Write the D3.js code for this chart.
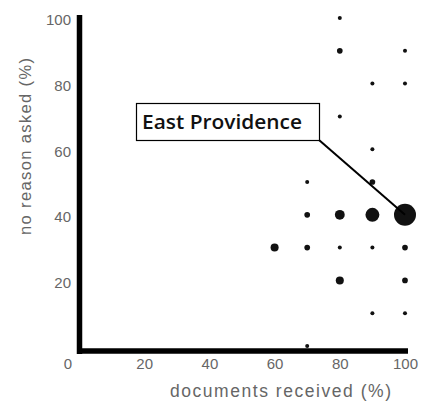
<!DOCTYPE html>
<html><head><meta charset="utf-8">
<script src="https://cdn.jsdelivr.net/npm/d3@7"></script>
<style>body{margin:0;background:#fff}svg{display:block}</style>
</head><body>
<script>
// data
const docsReceived = [80, 80,100, 90,100, 80, 90, 70,90, 70,80,90,100, 60,70,80,90,100, 80,100, 90,100, 70];
const noReason     = [100, 90,90, 80,80, 70, 60, 50,50, 40,40,40,40, 30,30,30,30,30, 20,20, 10,10, 0];
const counts       = [1, 2,1, 1,1, 1, 1, 1,2, 2,6,12,30, 4,2,1,1,2, 4,2, 1,1, 1];
const xTicks = [20, 40, 60, 80, 100];
const yTicks = [20, 40, 60, 80, 100];
const highlight = {label: "East Providence", x: 100, y: 40};

const W = 439, H = 404;
const svg = d3.select("body").append("svg").attr("width", W).attr("height", H);
const x = d3.scaleLinear().domain([0, 100]).range([79, 405]);
const y = d3.scaleLinear().domain([0, 100]).range([346, 18]);
const r = d3.scaleSqrt().domain([0, 30]).range([0, 11]);

// axes lines (thick)
svg.append("line").attr("x1", x(0)+0.5).attr("x2", x(0)+0.5).attr("y1", 15).attr("y2", 354)
  .attr("stroke", "#000").attr("stroke-width", 5.5);
svg.append("line").attr("x1", 77).attr("x2", 408).attr("y1", 351).attr("y2", 351)
  .attr("stroke", "#000").attr("stroke-width", 5.5);

const tickFont = "'Liberation Sans', 'DejaVu Sans', sans-serif";
const yAxis = svg.append("g").attr("transform", `translate(${x(0)-6},2)`)
  .call(d3.axisLeft(y).tickValues(yTicks).tickSize(0).tickPadding(2));
const xAxis = svg.append("g").attr("transform", `translate(0,356)`)
  .call(d3.axisBottom(x).tickValues(xTicks).tickSize(0).tickPadding(2));
[yAxis, xAxis].forEach(g => {
  g.select(".domain").remove();
  g.selectAll("text").attr("fill", "#666").attr("font-size", 15).attr("font-family", tickFont);
});
svg.append("text").attr("x", 68).attr("y", 369).attr("text-anchor", "middle")
  .attr("fill", "#666").attr("font-size", 15).attr("font-family", tickFont).text("0");

// axis titles
svg.append("text").attr("x", 170).attr("y", 397)
  .attr("fill", "#666").attr("font-size", 17.5).attr("font-family", tickFont)
  .attr("textLength", 221).attr("lengthAdjust", "spacing")
  .text("documents received (%)");
svg.append("text").attr("transform", "translate(31,235) rotate(-90)")
  .attr("fill", "#666").attr("font-size", 16.5).attr("font-family", tickFont)
  .attr("textLength", 177).attr("lengthAdjust", "spacing")
  .text("no reason asked (%)");

// points
svg.append("g").selectAll("circle").data(counts).join("circle")
  .attr("cx", (d, i) => x(docsReceived[i]))
  .attr("cy", (d, i) => y(noReason[i]))
  .attr("r", d => Math.max(1.8, r(d)))
  .attr("fill", "#111");

// callout
const bx = 136, by = 103, bw = 183, bh = 37;
svg.append("line").attr("x1", bx + bw).attr("y1", by + bh)
  .attr("x2", x(highlight.x)).attr("y2", y(highlight.y))
  .attr("stroke", "#000").attr("stroke-width", 2);
svg.append("rect").attr("x", bx + 0.5).attr("y", by + 0.5).attr("width", bw).attr("height", bh)
  .attr("fill", "#fff").attr("stroke", "#000").attr("stroke-width", 1.2);
svg.append("text").attr("x", bx + 6).attr("y", by + 26)
  .attr("font-family", "'Open Sans', 'Noto Sans', sans-serif").attr("font-size", 20.5)
  .attr("font-weight", 600).attr("fill", "#111")
  .attr("textLength", 160).attr("lengthAdjust", "spacingAndGlyphs")
  .text(highlight.label);
</script>
</body></html>
